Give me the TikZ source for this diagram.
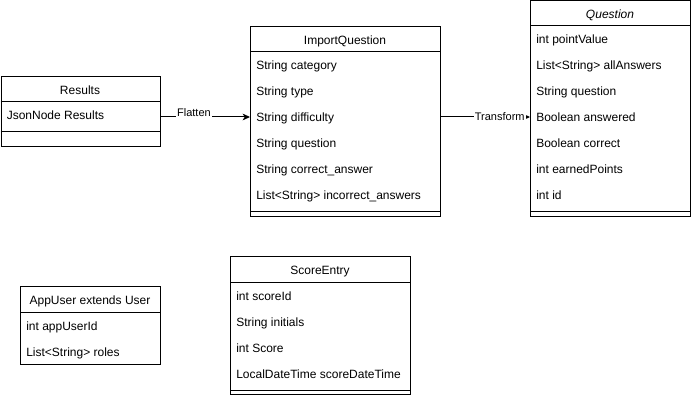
\documentclass[tikz,border=0pt]{standalone}
\usepackage{fontspec}
\setmainfont{Liberation Sans}
\usetikzlibrary{arrows.meta}

\tikzset{
  classbox/.style={draw,line width=.75pt,anchor=north west,inner sep=0pt},
  rule/.style={line width=.75pt},
  classname/.style={anchor=base,yshift=-4.1pt,inner sep=0pt,font=\fontsize{9}{11}\selectfont},
  attr/.style={anchor=base west,yshift=-3.75pt,inner sep=0pt,font=\fontsize{9}{11}\selectfont},
  edgelabel/.style={fill=white,inner sep=1pt,font=\fontsize{8.25}{10}\selectfont},
  flow/.style={line width=.75pt,-{Stealth[length=5.5pt,width=5pt,inset=1.5pt]}}
}

\begin{document}
\begin{tikzpicture}[x=0.75pt,y=-0.75pt]
\useasboundingbox (0,0) rectangle (698,402);
% Results class
\node[classbox,minimum width=159.5*.75pt,minimum height=70*.75pt] (res) at (0.5,76) {};
\draw[rule] (0.5,102) -- (160,102);
\draw[rule] (0.5,132) -- (160,132);
\node[classname] (resname) at (80,89) {Results};
\node[attr] (resjson) at (6.5,115) {JsonNode Results};
% ImportQuestion class
\node[classbox,minimum width=190*.75pt,minimum height=190*.75pt] (iq) at (250,26) {};
\draw[rule] (250,52) -- (440,52);
\draw[rule] (250,212) -- (440,212);
\node[classname] (iqname) at (345,39) {ImportQuestion};
\node[attr] (iqcat) at (256,65) {String category};
\node[attr] (iqtype) at (256,91) {String type};
\node[attr] (iqdiff) at (256,117) {String difficulty};
\node[attr] (iqquest) at (256,143) {String question};
\node[attr] (iqright) at (256,169) {String correct\_answer};
\node[attr] (iqwrong) at (256,195) {List<String> incorrect\_answers};
\coordinate (iqin) at (250,117);
% Question class, name in italics
\node[classbox,minimum width=160*.75pt,minimum height=215.5*.75pt] (q) at (530,0.5) {};
\draw[rule] (530,26) -- (690,26);
\draw[rule] (530,212) -- (690,212);
\node[classname,font=\fontsize{9}{11}\selectfont\itshape] (qname) at (610,13) {Question};
\node[attr] (qpoints) at (536,39) {int pointValue};
\node[attr] (qall) at (536,65) {List<String> allAnswers};
\node[attr] (qquest) at (536,91) {String question};
\node[attr] (qans) at (536,117) {Boolean answered};
\node[attr] (qright) at (536,143) {Boolean correct};
\node[attr] (qearned) at (536,169) {int earnedPoints};
\node[attr] (qid) at (536,195) {int id};
\coordinate (qin) at (530,117);
% AppUser class
\node[classbox,minimum width=140*.75pt,minimum height=78*.75pt] (user) at (20,286) {};
\draw[rule] (20,312) -- (160,312);
\node[classname] (username) at (90,299) {AppUser extends User};
\node[attr] (userid) at (26,325) {int appUserId};
\node[attr] (userroles) at (26,351) {List<String> roles};
% ScoreEntry class
\node[classbox,minimum width=180*.75pt,minimum height=138*.75pt] (score) at (230,256) {};
\draw[rule] (230,282) -- (410,282);
\draw[rule] (230,390) -- (410,390);
\node[classname] (scorename) at (320,269) {ScoreEntry};
\node[attr] (scoreid) at (236,295) {int scoreId};
\node[attr] (scoreinit) at (236,321) {String initials};
\node[attr] (scorepts) at (236,347) {int Score};
\node[attr] (scoretime) at (236,373) {LocalDateTime scoreDateTime};

% Arrows between the classes
\draw[flow] (res.east |- iqin) -- node[edgelabel,pos=.37,yshift=3pt] {Flatten} (iqin);
\draw[flow] (iq.east |- qin) -- node[edgelabel,pos=.66] {Transform} (qin);
\end{tikzpicture}
\end{document}
